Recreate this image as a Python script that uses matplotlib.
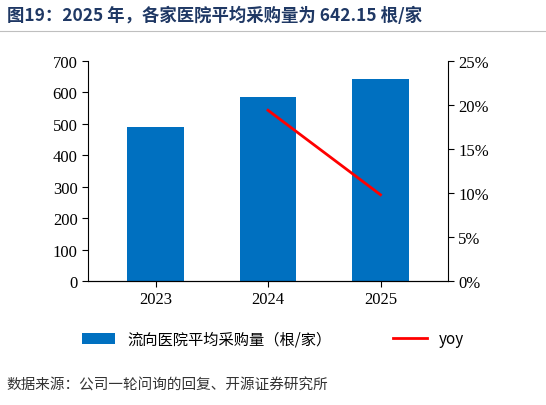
import matplotlib
matplotlib.use("Agg")
import matplotlib.pyplot as plt
from matplotlib.ticker import FuncFormatter

years = ["2023", "2024", "2025"]
purchase = [490, 585, 642.15]
yoy_years = ["2024", "2025"]
yoy = [19.4, 9.8]

cjk = ["Noto Sans CJK SC", "DejaVu Sans"]
serif = ["Liberation Serif", "Noto Sans CJK SC"]

fig = plt.figure(figsize=(5.46, 4.06), dpi=100)
ax = fig.add_axes([88/546, 1-282/406, 360/546, 220/406])
x = list(range(len(years)))
ax.bar(x, purchase, width=0.5, color="#0070C0", label="流向医院平均采购量（根/家）")
ax.set_ylim(0, 700)
ax.set_yticks(range(0, 701, 100))
ax.set_xlim(-0.6, 2.6)
ax.set_xticks(x)
ax.set_xticklabels(years)
ax2 = ax.twinx()
xi = [years.index(y) for y in yoy_years]
ax2.plot(xi, yoy, color="#FF0000", lw=2, label="yoy")
ax2.set_ylim(0, 25)
ax2.set_yticks(range(0, 26, 5))
ax2.yaxis.set_major_formatter(FuncFormatter(lambda v, p: f"{int(v)}%"))
for a in (ax, ax2):
    for s in ["top"]:
        a.spines[s].set_visible(False)
    a.tick_params(labelsize=12, length=4, direction="out")
    for lab in a.get_xticklabels() + a.get_yticklabels():
        lab.set_family(serif)
ax2.spines["left"].set_visible(False)
ax.spines["right"].set_visible(False)

fig.text(0.012, 1-16/406, "图19：2025 年，各家医院平均采购量为 642.15 根/家", family=cjk,
         fontsize=12.5, fontweight="bold", color="#1F3864", va="center")
fig.add_artist(plt.Line2D([0.0, 1.0], [1-32/406, 1-32/406], color="#BFBFBF", lw=0.8))

h1, l1 = ax.get_legend_handles_labels()
h2, l2 = ax2.get_legend_handles_labels()
fig.legend(h1 + h2, l1 + l2, loc="center", bbox_to_anchor=(0.5, 1-340/406), ncol=2,
           frameon=False, prop={"family": cjk, "size": 11}, columnspacing=4, handlelength=2.2)
fig.text(0.012, 1-386/406, "数据来源：公司一轮问询的回复、开源证券研究所", family=cjk,
         fontsize=10.5, color="#333333", va="center")
fig.savefig("out.png", dpi=100)
